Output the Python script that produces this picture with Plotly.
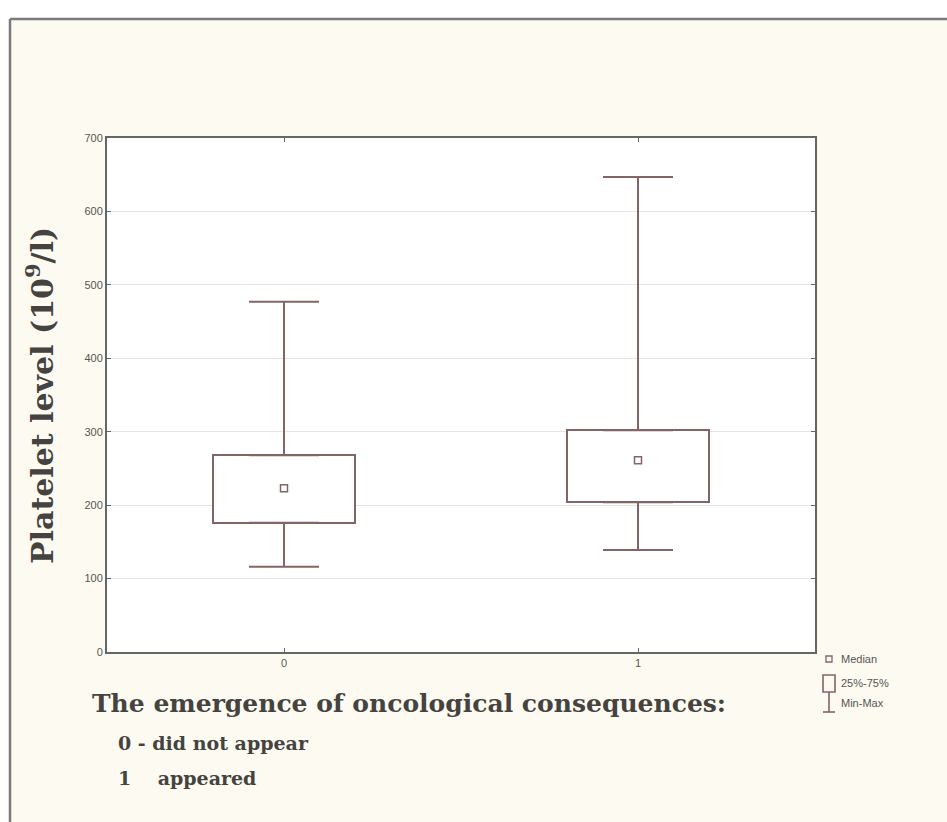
import plotly.graph_objects as go

# Platelet level by emergence of oncological consequences (0 / 1)
groups = [0, 1]
group_labels = ["0", "1"]
q1_vals = [176, 204]
median_vals = [223, 261]
q3_vals = [268, 302]
min_vals = [116, 139]
max_vals = [477, 647]

y_ticks = [0, 100, 200, 300, 400, 500, 600, 700]

LINE = "#836566"
W, H = 947, 822
L, R, T, B = 107, 132, 138, 170
PW, PH = W - L - R, H - T - B


def px(x):
    return (x - L) / PW


def py(y):
    return (H - B - y) / PH


fig = go.Figure()

# Interquartile boxes
fig.add_trace(go.Bar(
    x=groups,
    base=q1_vals,
    y=[b - a for a, b in zip(q1_vals, q3_vals)],
    width=0.4,
    marker=dict(color="white", line=dict(color=LINE, width=2)),
    hoverinfo="skip",
    showlegend=False,
))

# Upper whiskers (from Q3 to max)
fig.add_trace(go.Scatter(
    x=groups, y=q3_vals, mode="markers",
    marker=dict(size=1, color="rgba(0,0,0,0)"),
    error_y=dict(type="data", symmetric=False,
                 array=[m - q for m, q in zip(max_vals, q3_vals)],
                 arrayminus=[0, 0], color=LINE, thickness=2, width=35),
    hoverinfo="skip", showlegend=False,
))

# Lower whiskers (from min to Q1)
fig.add_trace(go.Scatter(
    x=groups, y=q1_vals, mode="markers",
    marker=dict(size=1, color="rgba(0,0,0,0)"),
    error_y=dict(type="data", symmetric=False,
                 array=[0, 0],
                 arrayminus=[q - m for q, m in zip(q1_vals, min_vals)],
                 color=LINE, thickness=2, width=35),
    hoverinfo="skip", showlegend=False,
))

# Medians
fig.add_trace(go.Scatter(
    x=groups, y=median_vals, mode="markers",
    marker=dict(symbol="square-open", size=7, color=LINE, line=dict(width=1.5)),
    showlegend=False,
))

shapes = [
    # white strip above and left of the panel frame
    dict(type="rect", xref="paper", yref="paper", x0=px(-5), x1=px(W + 5), y0=py(-5), y1=py(19),
         fillcolor="white", line=dict(width=0), layer="below"),
    dict(type="rect", xref="paper", yref="paper", x0=px(-5), x1=px(10), y0=py(-5), y1=py(H + 5),
         fillcolor="white", line=dict(width=0), layer="below"),
    # panel frame
    dict(type="line", xref="paper", yref="paper", x0=px(10), x1=px(W + 5), y0=py(19), y1=py(19),
         line=dict(color="#7a7a7a", width=2.5)),
    dict(type="line", xref="paper", yref="paper", x0=px(10), x1=px(10), y0=py(19), y1=py(H + 5),
         line=dict(color="#7a7a7a", width=2.5)),
    # legend glyphs
    dict(type="rect", xref="paper", yref="paper", x0=px(826), x1=px(832), y0=py(662), y1=py(656),
         line=dict(color=LINE, width=1.3)),
    dict(type="rect", xref="paper", yref="paper", x0=px(823), x1=px(835), y0=py(692), y1=py(675),
         line=dict(color=LINE, width=1.6)),
    dict(type="line", xref="paper", yref="paper", x0=px(829), x1=px(829), y0=py(692), y1=py(712),
         line=dict(color=LINE, width=1.6)),
    dict(type="line", xref="paper", yref="paper", x0=px(823), x1=px(835), y0=py(712), y1=py(712),
         line=dict(color=LINE, width=1.6)),
]

serif = "DejaVu Serif"
TXT = "#454340"
annotations = [
    dict(text="<b>Platelet level (10<sup>9</sup>/l)</b>", textangle=-90, xref="paper", yref="paper",
         x=px(40), y=py(396), showarrow=False, xanchor="center", yanchor="middle",
         font=dict(family=serif, size=30, color=TXT)),
    dict(text="<b>The emergence of oncological consequences:</b>", xref="paper", yref="paper",
         x=px(90), y=py(703), showarrow=False, xanchor="left", yanchor="middle",
         font=dict(family=serif, size=25, color=TXT)),
    dict(text="<b>0 - did not appear</b>", xref="paper", yref="paper",
         x=px(116), y=py(743), showarrow=False, xanchor="left", yanchor="middle",
         font=dict(family=serif, size=19, color=TXT)),
    dict(text="<b>1    appeared</b>", xref="paper", yref="paper",
         x=px(116), y=py(778), showarrow=False, xanchor="left", yanchor="middle",
         font=dict(family=serif, size=19, color=TXT)),
]
for label, ypx in [("Median", 659), ("25%-75%", 683), ("Min-Max", 703)]:
    annotations.append(dict(text=label, xref="paper", yref="paper", x=px(839), y=py(ypx),
                            showarrow=False, xanchor="left", yanchor="middle",
                            font=dict(family="Liberation Sans", size=11, color="#555")))

fig.update_layout(
    width=W, height=H,
    margin=dict(l=L, r=R, t=T, b=B),
    paper_bgcolor="#fdfbf1",
    plot_bgcolor="white",
    shapes=shapes,
    annotations=annotations,
    bargap=0,
)

fig.update_xaxes(
    range=[-0.5, 1.5], tickvals=groups, ticktext=group_labels,
    showgrid=False, zeroline=False,
    showline=True, linecolor="#666", linewidth=2, mirror="ticks",
    ticks="inside", ticklen=4, tickcolor="#666",
    tickfont=dict(family="Liberation Sans", size=11, color="#555"),
)
fig.update_yaxes(
    range=[0, 700], tickvals=y_ticks,
    showgrid=True, gridcolor="#e4e4e4", gridwidth=1, zeroline=False,
    showline=True, linecolor="#666", linewidth=2, mirror="ticks",
    ticks="inside", ticklen=4, tickcolor="#666",
    tickfont=dict(family="Liberation Sans", size=11, color="#555"),
)

fig.write_html("out.html")
